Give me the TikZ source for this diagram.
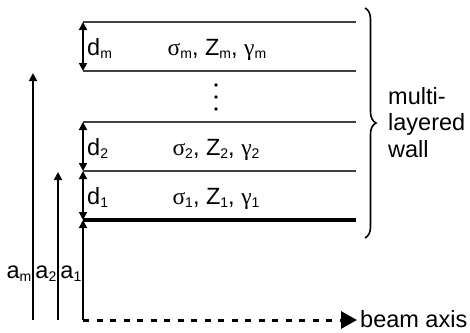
\documentclass[tikz,border=0pt]{standalone}
\usepackage{fontspec}
\setmainfont{Liberation Sans}
\newfontfamily\grk{Liberation Serif}
\usetikzlibrary{arrows.meta,decorations.pathreplacing}
\newcommand\lsub[1]{\raisebox{-0.16em}{\fontsize{14}{14}\selectfont #1}}
\begin{document}
\begin{tikzpicture}[x=1pt,y=-1pt,
  font=\fontsize{23.5}{27}\selectfont,
  txt/.style={inner sep=0pt},
  layerline/.style={draw=black!75, line width=1.5pt},
  wallline/.style={draw=black, line width=3.2pt},
  dimarrow/.style={line width=1.7pt, {Triangle[length=8,width=8]}-{Triangle[length=8,width=8]}},
  posarrow/.style={line width=1.7pt, -{Triangle[length=8,width=8]}},
  axisline/.style={line width=3pt, dash pattern=on 6pt off 7.5pt, -{Triangle[length=16,width=17]}},
  bracestyle/.style={line width=1.6pt, decorate, decoration={brace, amplitude=11pt}}]
\useasboundingbox (0,0) rectangle (470,332);
% layer boundaries
\coordinate (L5l) at (83,22);  \coordinate (L5r) at (356,22);
\coordinate (L4l) at (83,71);  \coordinate (L4r) at (356,71);
\coordinate (L3l) at (83,122); \coordinate (L3r) at (356,122);
\coordinate (L2l) at (83,171); \coordinate (L2r) at (356,171);
\coordinate (L1l) at (83,220); \coordinate (L1r) at (356,220);
\coordinate (origin) at (83,320);
\coordinate (axisend) at (357,320);
\coordinate (amb) at (33,320); \coordinate (amt) at (33,73);
\coordinate (a2b) at (58,320); \coordinate (a2t) at (58,172);
\coordinate (bracetop) at (365,8); \coordinate (bracebot) at (365,238);

\draw[layerline] (L5l) -- (L5r);
\draw[layerline] (L4l) -- (L4r);
\draw[layerline] (L3l) -- (L3r);
\draw[layerline] (L2l) -- (L2r);
\draw[wallline] (L1l) -- (L1r);

% thickness arrows
\draw[dimarrow] (L5l) -- (L4l);
\draw[dimarrow] (L3l) -- (L2l);
\draw[dimarrow] (L2l) -- (L1l);

% position arrows
\draw[posarrow] (origin) -- (L1l);
\draw[posarrow] (a2b) -- (a2t);
\draw[posarrow] (amb) -- (amt);

% beam axis
\draw[axisline] (origin) -- (axisend);
\node[txt, anchor=base west] (beam) at (360,327) {beam axis};

% labels
\node[txt, anchor=base west] (dm) at (87,55) {d\lsub{m}};
\node[txt, anchor=base west] (d2) at (87,155) {d\lsub{2}};
\node[txt, anchor=base west] (d1) at (87,204) {d\lsub{1}};
\node[txt, anchor=base] (pm) at (217,55) {{\grk σ}\lsub{m}, Z\lsub{m}, {\grk γ}\lsub{m}};
\node[txt, anchor=base] (p2) at (216,155) {{\grk σ}\lsub{2}, Z\lsub{2}, {\grk γ}\lsub{2}};
\node[txt, anchor=base] (p1) at (216,204) {{\grk σ}\lsub{1}, Z\lsub{1}, {\grk γ}\lsub{1}};

\fill (216,85) circle (1.8);
\fill (216,97) circle (1.8);
\fill (216,109) circle (1.8);

\node[txt, anchor=base east] (am) at (31.5,278) {a\lsub{m}};
\node[txt, anchor=base east] (a2) at (56.5,278) {a\lsub{2}};
\node[txt, anchor=base east] (a1) at (81.5,278) {a\lsub{1}};

% brace
\draw[bracestyle] (bracetop) -- (bracebot);
\node[txt, anchor=base west] (w1) at (388,104) {multi-};
\node[txt, anchor=base west] (w2) at (388,130) {layered};
\node[txt, anchor=base west] (w3) at (388,157) {wall};
\end{tikzpicture}
\end{document}
